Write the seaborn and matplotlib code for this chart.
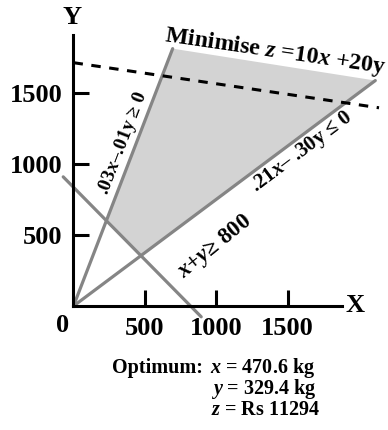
import matplotlib
matplotlib.use("Agg")
import matplotlib.pyplot as plt
import seaborn as sns
import pandas as pd

# ---- data ----
ratio_line_x = [0, 695]          # .03x - .01y >= 0
ratio_line_y = [0, 1815]
protein_line_x = [0, 2115]       # .21x - .30y <= 0
protein_line_y = [0, 1590]
total_line_x = [-72, 895]        # x + y >= 800
total_line_y = [911, -76]
objective_x = [0, 2141]          # iso-cost line (dashed)
objective_y = [1716, 1398]
region_x = [238, 695, 2115, 478] # feasible region vertices
region_y = [610, 1815, 1590, 356]
x_ticks = [500, 1000, 1500]
y_ticks = [500, 1000, 1500]
x_axis_end = 1880
y_axis_end = 1911

sns.set_theme(style="white")
plt.rcParams["font.family"] = ["Liberation Serif", "DejaVu Serif"]
plt.rcParams["font.weight"] = "bold"
plt.rcParams["text.color"] = "black"
plt.rcParams["xtick.color"] = "black"
plt.rcParams["ytick.color"] = "black"
plt.rcParams["xtick.labelcolor"] = "black"
plt.rcParams["ytick.labelcolor"] = "black"
plt.rcParams["mathtext.fontset"] = "custom"
plt.rcParams["mathtext.it"] = "Liberation Serif:italic:bold"
plt.rcParams["mathtext.rm"] = "Liberation Serif:bold"
plt.rcParams["mathtext.bf"] = "Liberation Serif:bold"

fig = plt.figure(figsize=(3.88, 4.30), dpi=100)
ax = fig.add_axes([0, 0, 1, 1])
ax.set_xlim(-515, 2204)
ax.set_ylim(-874, 2158)

gray = "#858585"
ax.fill(region_x, region_y, color="#d3d3d3", lw=0, zorder=1)

for xs, ys in [(ratio_line_x, ratio_line_y), (protein_line_x, protein_line_y),
               (total_line_x, total_line_y)]:
    df = pd.DataFrame({"x": xs, "y": ys})
    sns.lineplot(data=df, x="x", y="y", ax=ax, color=gray, lw=2.3, sort=False,
                 estimator=None, zorder=2)

dfo = pd.DataFrame({"x": objective_x, "y": objective_y})
sns.lineplot(data=dfo, x="x", y="y", ax=ax, color="black", lw=2.2, sort=False,
             estimator=None, linestyle=(0, (3.1, 2.8)), zorder=3)

ax.set_xlabel("")
ax.set_ylabel("")

for s in ["top", "right"]:
    ax.spines[s].set_visible(False)
ax.spines["left"].set_position(("data", 0))
ax.spines["bottom"].set_position(("data", 0))
ax.spines["left"].set_bounds(0, y_axis_end)
ax.spines["bottom"].set_bounds(0, x_axis_end)
for s in ["left", "bottom"]:
    ax.spines[s].set_color("black")
    ax.spines[s].set_linewidth(2.2)
    ax.spines[s].set_zorder(4)

ax.set_xticks(x_ticks)
ax.set_yticks(y_ticks)
ax.set_xticklabels([str(v) for v in x_ticks])
ax.set_yticklabels([str(v) for v in y_ticks])
ax.tick_params(axis="both", direction="in", length=11.5, width=2.2, color="black",
               labelcolor="black", labelsize=19, pad=8, bottom=True, left=True)
for lab in ax.get_xticklabels() + ax.get_yticklabels():
    lab.set_fontweight("bold")

T = ax.transAxes
W, H = 388.0, 430.0
def P(px, py):
    return px / W, 1 - py / H

kw = dict(transform=T, color="black", fontweight="bold")
ax.text(*P(63, 325), "0", ha="center", va="center", fontsize=19, **kw)
ax.text(*P(72, 18), "Y", ha="center", va="center", fontsize=19, **kw)
ax.text(*P(355, 306), "X", ha="center", va="center", fontsize=19, **kw)

ax.text(*P(275, 52), r"Minimise $z$ =10$x$ +20y", ha="center", va="center",
        rotation=-8.3, rotation_mode="anchor", fontsize=17.2, **kw)
ax.text(*P(123, 143), r".03$x$–.01y ≥ 0", ha="center", va="center",
        rotation=69, rotation_mode="anchor", fontsize=14, **kw)
ax.text(*P(302, 152), r".21$x$– .30y ≤ 0", ha="center", va="center",
        rotation=37, rotation_mode="anchor", fontsize=15, **kw)
ax.text(*P(215, 247), r"$x$+$y$≥ 800", ha="center", va="center",
        rotation=39, rotation_mode="anchor", fontsize=16.5, **kw)

ax.text(*P(203, 373), "Optimum:", ha="right", va="baseline", fontsize=14.5, **kw)
ax.text(*P(210, 373), r"$x$ = 470.6 kg", ha="left", va="baseline", fontsize=14.5, **kw)
ax.text(*P(211, 394), r"$y$ = 329.4 kg", ha="left", va="baseline", fontsize=14.5, **kw)
ax.text(*P(211, 415), r"$z$ = Rs 11294", ha="left", va="baseline", fontsize=14.5, **kw)

fig.savefig("out.png", dpi=100)
